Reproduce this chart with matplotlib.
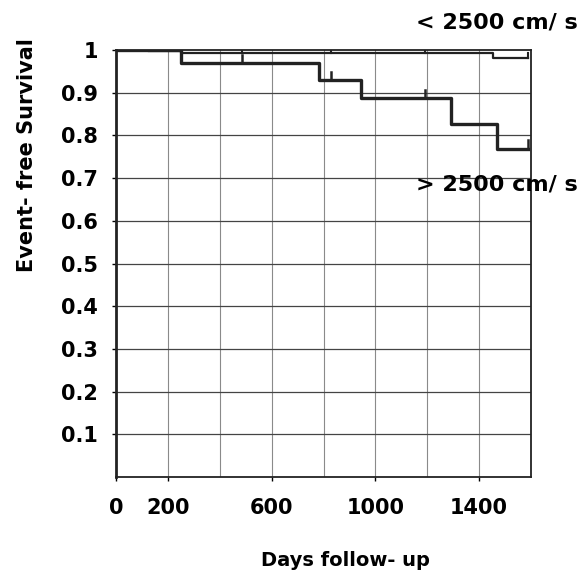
import matplotlib
matplotlib.use("Agg")
import matplotlib.pyplot as plt
import numpy as np

# Kaplan-Meier style step curves
low_days = [0, 125, 250, 1455, 1588]
low_surv = [1.0, 0.998, 0.992, 0.982, 0.982]
low_cens = [485, 830, 1190, 1588]

high_days = [0, 250, 783, 944, 1291, 1468, 1588]
high_surv = [1.0, 0.969, 0.929, 0.887, 0.827, 0.769, 0.769]
high_cens = [485, 830, 1190, 1588]

yticks = [0.1, 0.2, 0.3, 0.4, 0.5, 0.6, 0.7, 0.8, 0.9, 1.0]
ytick_labels = ["0.1", "0.2", "0.3", "0.4", "0.5", "0.6", "0.7", "0.8", "0.9", "1"]
xticks = [0, 200, 600, 1000, 1400]
xtick_labels = ["0", "200", "600", "1000", "1400"]

plt.rcParams['font.family'] = ['DejaVu Sans']
plt.rcParams['font.weight'] = 'bold'

fig = plt.figure(figsize=(5.81, 5.77), dpi=100)
# axes box: x 116..531 px, y 50..477 px
ax = fig.add_axes([116 / 581, 1 - 477 / 577, 415 / 581, 427 / 577])

# grid
for gx in range(200, 1600, 200):
    ax.axvline(gx, color='#8a8a8a', lw=0.8, zorder=1)
for gy in yticks[:-1]:
    ax.axhline(gy, color='#444444', lw=0.9, zorder=1)

ax.step(low_days, low_surv, where='post', color='#222222', lw=1.6, zorder=3)
ax.step(high_days, high_surv, where='post', color='#222222', lw=2.4, zorder=3)


def step_at(days, surv, d):
    i = np.searchsorted(days, d, side='right') - 1
    return surv[i]


for d in low_cens:
    y = step_at(low_days, low_surv, d)
    ax.plot([d, d], [y, y + 0.012], color='#222222', lw=1.5, zorder=3)
for d in high_cens:
    y = step_at(high_days, high_surv, d)
    ax.plot([d, d], [y, y + 0.02], color='#222222', lw=1.8, zorder=3)

ax.set_xlim(0, 1600)
ax.set_ylim(0, 1.0)
ax.set_yticks(yticks)
ax.set_yticklabels(ytick_labels)
ax.set_xticks(xticks)
ax.set_xticklabels(xtick_labels)
ax.tick_params(axis='y', labelsize=15, length=3, width=1, pad=10)
ax.tick_params(axis='x', labelsize=15, length=3, width=1, pad=12)
for lab in ax.get_xticklabels() + ax.get_yticklabels():
    lab.set_fontweight('bold')

for side in ['left', 'bottom', 'right', 'top']:
    ax.spines[side].set_linewidth(1.3)
    ax.spines[side].set_color('#222222')
ax.spines['left'].set_linewidth(2.0)

fig.text(0.995, 1 - 23 / 577, "< 2500 cm/ s", ha='right', va='center',
         fontsize=16, fontweight='bold')
fig.text(0.995, 1 - 184 / 577, "> 2500 cm/ s", ha='right', va='center',
         fontsize=16, fontweight='bold', zorder=4)

fig.text(27 / 581, 1 - 155 / 577, "Event- free Survival", rotation=90,
         ha='center', va='center', fontsize=15, fontweight='bold')
fig.text(345 / 581, 1 - 560 / 577, "Days follow- up", ha='center',
         va='center', fontsize=14, fontweight='bold')

fig.savefig("out.png", dpi=100, facecolor='white')
